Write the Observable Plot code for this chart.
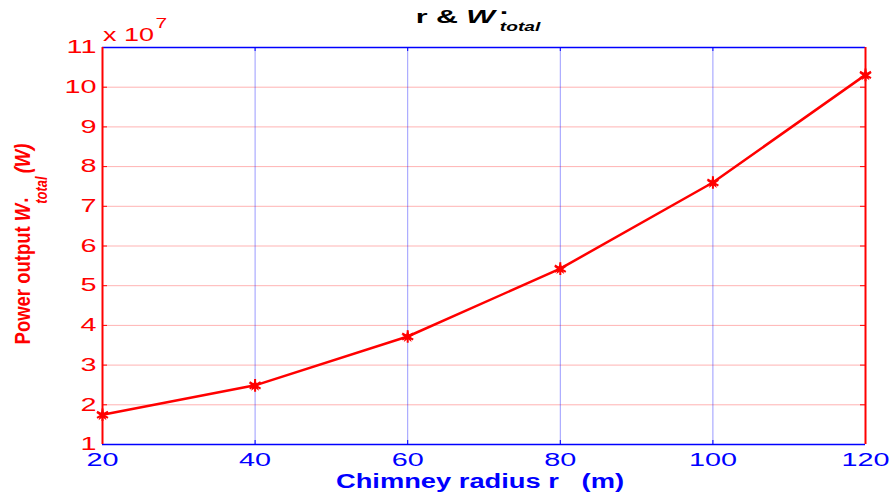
<!DOCTYPE html>
<html><head><meta charset="utf-8">
<script src="https://cdn.jsdelivr.net/npm/d3@7"></script>
<script src="https://cdn.jsdelivr.net/npm/@observablehq/plot@0.6"></script>
<style>body{margin:0;background:#fff} svg{display:block}</style>
</head><body><div id="chart"></div>
<script>
// Data (power in units of 10^7 W)
const radius = [20, 40, 60, 80, 100, 120];
const powerE7 = [1.75, 2.49, 3.72, 5.43, 7.60, 10.31];
const xTicks = [20, 40, 60, 80, 100, 120];
const yTicks = [1, 2, 3, 4, 5, 6, 7, 8, 9, 10, 11];
const xGrid = [40, 60, 80, 100];
const yGrid = [2, 3, 4, 5, 6, 7, 8, 9, 10];

const data = radius.map((r, i) => ({r, p: powerE7[i]}));

const W = 891, H = 496, mL = 102, mR = 26, mT = 47, mB = 52;
const fw = W - mL - mR, fh = H - mT - mB;
const RED = "#ff0000", BLUE = "#0000ff";
const FONT = "'Liberation Sans', Arial, sans-serif";

const svg = Plot.plot({
  width: W, height: H,
  marginLeft: mL, marginRight: mR, marginTop: mT, marginBottom: mB,
  style: {fontFamily: FONT, fontSize: "18px", background: "#fff", overflow: "visible"},
  x: {domain: [20, 120]},
  y: {domain: [1, 11]},
  marks: [
    Plot.ruleY(yGrid, {stroke: RED, strokeOpacity: 0.3, strokeWidth: 1}),
    Plot.ruleX(xGrid, {stroke: BLUE, strokeOpacity: 0.4, strokeWidth: 1}),
    Plot.tickX(xTicks, {x: d => d, stroke: BLUE, insetTop: fh - 4}),
    Plot.tickX(xTicks, {x: d => d, stroke: BLUE, insetBottom: fh - 4}),
    Plot.tickY(yTicks, {y: d => d, stroke: RED, insetRight: fw - 5}),
    Plot.tickY(yTicks, {y: d => d, stroke: RED, insetLeft: fw - 5}),
    Plot.ruleY([1], {stroke: BLUE, strokeWidth: 1.5}),
    Plot.ruleY([11], {stroke: BLUE, strokeWidth: 1.5}),
    Plot.ruleX([20], {stroke: RED, strokeWidth: 2}),
    Plot.ruleX([120], {stroke: RED, strokeWidth: 2}),
    Plot.axisX({ticks: xTicks, tickSize: 0, tickPadding: 9, fill: BLUE, label: null, fontSize: 18, tickFormat: d => String(d)}),
    Plot.axisY({ticks: yTicks, tickSize: 0, tickPadding: 6, fill: RED, label: null, fontSize: 18, tickFormat: d => String(d)}),
    Plot.line(data, {x: "r", y: "p", stroke: RED, strokeWidth: 2.5}),
    Plot.dot(data, {x: "r", y: "p", symbol: "asterisk", r: 6, stroke: RED, strokeWidth: 2}),
    Plot.dot(data, {x: "r", y: "p", symbol: "star", r: 4, fill: RED})
  ]
});
document.getElementById("chart").append(svg);

const S = d3.select(svg);

// Stretch tick labels horizontally (MATLAB-like wide glyphs)
S.selectAll('g[aria-label="x-axis tick label"] text, g[aria-label="y-axis tick label"] text').each(function () {
  const t = this.getAttribute("transform");
  if (t) this.setAttribute("transform", t + " scale(1.6,1)");
  else {
    const x = this.getAttribute("x") || 0;
    this.removeAttribute("x");
    this.setAttribute("transform", `translate(${x},0) scale(1.6,1)`);
  }
});

function rich(runs, {x, y, rotate = 0, sx = 1, sy = 1, fill, center = true}) {
  const g = S.append("g")
    .attr("transform", `translate(${x},${y}) rotate(${rotate}) scale(${sx},${sy})`)
    .attr("fill", fill)
    .attr("text-anchor", "start")
    .style("font-family", FONT)
    .style("white-space", "pre");
  let cx = 0;
  const els = [];
  for (const r of runs) {
    const t = g.append("text")
      .attr("text-anchor", "start")
      .attr("x", cx + (r.dx || 0))
      .attr("y", r.shift || 0)
      .style("font-size", r.size + "px")
      .style("font-weight", r.weight || "bold")
      .style("font-style", r.style || "normal")
      .text(r.text);
    const w = t.node().getComputedTextLength();
    if (r.advance !== false) cx += w + (r.dx || 0);
    els.push(t);
  }
  if (center) els.forEach(t => t.attr("x", +t.attr("x") - cx / 2));
}

// Title
rich([
  {text: "r & ", size: 19},
  {text: "W", size: 19, style: "italic"},
  {text: "·", size: 19, style: "normal", shift: -4, dx: 3, advance: false},
  {text: "total", size: 12, style: "italic", shift: 8, dx: 3}
], {x: 478, y: 23, sx: 1.6, fill: "#000"});

// y label
rich([
  {text: "Power output ", size: 18.5},
  {text: "W", size: 18.5, style: "italic"},
  {text: "·", size: 18.5, shift: 3, dx: 1, advance: false},
  {text: "total", size: 13, style: "italic", shift: 14, dx: 0},
  {text: "(W)", size: 18.5, style: "italic", dx: 3}
], {x: 30, y: 244, rotate: -90, sy: 1.2, fill: RED});

// x label
rich([{text: "Chimney radius r   (m)", size: 21}], {x: 480, y: 488, sx: 1.3, fill: BLUE});

// exponent
rich([
  {text: "x 10", size: 18, weight: "normal"},
  {text: "7", size: 14, weight: "normal", shift: -13, dx: 1}
], {x: 103, y: 41, sx: 1.5, fill: RED, center: false});
</script>
</body></html>
